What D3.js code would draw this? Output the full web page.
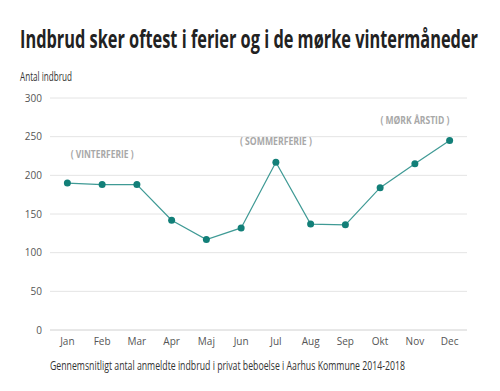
<!doctype html>
<html>
<head>
<script src="https://cdn.jsdelivr.net/npm/d3@7"></script>
<style>
  body { margin: 0; background: #fff; }
  text { font-family: "Open Sans", sans-serif; }
</style>
</head>
<body>
<svg width="500" height="391"></svg>
<script>
// data
var months = ["Jan","Feb","Mar","Apr","Maj","Jun","Jul","Aug","Sep","Okt","Nov","Dec"];
var values = [190, 188, 188, 142, 117, 132, 217, 137, 136, 184, 215, 245];
var yTicks = [0, 50, 100, 150, 200, 250, 300];
var notes = [
  { label: "( VINTERFERIE )", month: "Feb", value: 222, w: 63 },
  { label: "( SOMMERFERIE )", month: "Jul", value: 239, w: 72 },
  { label: "( MØRK ÅRSTID )", month: "Nov", value: 267, w: 69 }
];

var svg = d3.select("svg");
var plotLeft = 50, plotRight = 467, plotTop = 98, plotBottom = 330;

var x = d3.scaleBand().domain(months).range([plotLeft, plotRight]);
var y = d3.scaleLinear().domain([0, 300]).range([plotBottom, plotTop]);

// title
svg.append("text")
  .attr("x", 20).attr("y", 48)
  .attr("textLength", 458).attr("lengthAdjust", "spacingAndGlyphs")
  .style("font-size", "25px").style("font-weight", "bold")
  .style("fill", "#222")
  .text("Indbrud sker oftest i ferier og i de mørke vintermåneder");

svg.append("text")
  .attr("x", 20).attr("y", 81)
  .attr("textLength", 52).attr("lengthAdjust", "spacingAndGlyphs")
  .style("font-size", "12px").style("fill", "#333")
  .text("Antal indbrud");

// grid
svg.append("g").selectAll("line")
  .data(yTicks).enter().append("line")
  .attr("x1", plotLeft).attr("x2", plotRight)
  .attr("y1", d => y(d)).attr("y2", d => y(d))
  .style("stroke", d => d === 0 ? "#d0d0d0" : "#e4e4e4")
  .style("stroke-width", 1);

// y axis
var yAxis = svg.append("g")
  .attr("transform", "translate(" + (plotLeft - 8) + ",0)")
  .call(d3.axisLeft(y).tickValues(yTicks).tickSize(0).tickPadding(0));
yAxis.select(".domain").remove();
yAxis.selectAll("text").style("font-size", "10px").style("fill", "#555")
  .style("font-family", "'Open Sans', sans-serif");

// x axis
var xAxis = svg.append("g")
  .attr("transform", "translate(0," + plotBottom + ")")
  .call(d3.axisBottom(x).tickSize(0).tickPadding(8));
xAxis.select(".domain").remove();
xAxis.selectAll("text").style("font-size", "10px").style("fill", "#555")
  .style("font-family", "'Open Sans', sans-serif");

// line
var cx = (d, i) => x(months[i]) + x.bandwidth() / 2;
var line = d3.line().x(cx).y(d => y(d));

svg.append("path")
  .datum(values)
  .attr("d", line)
  .style("fill", "none")
  .style("stroke", "#3f9a95")
  .style("stroke-width", 1.2);

svg.append("g").selectAll("circle")
  .data(values).enter().append("circle")
  .attr("cx", cx)
  .attr("cy", d => y(d))
  .attr("r", 3.5)
  .style("fill", "#127f78");

// annotations
svg.append("g").selectAll("text")
  .data(notes).enter().append("text")
  .attr("x", d => x(d.month) + x.bandwidth() / 2)
  .attr("y", d => y(d.value))
  .attr("text-anchor", "middle")
  .attr("textLength", d => d.w)
  .attr("lengthAdjust", "spacingAndGlyphs")
  .style("font-size", "10.5px").style("font-weight", "bold")
  .style("fill", "#a8a8a8")
  .text(d => d.label);

// caption
svg.append("text")
  .attr("x", 50).attr("y", 370)
  .attr("textLength", 355).attr("lengthAdjust", "spacingAndGlyphs")
  .style("font-size", "13px").style("fill", "#333")
  .text("Gennemsnitligt antal anmeldte indbrud i privat beboelse i Aarhus Kommune  2014-2018");
</script>
</body>
</html>
